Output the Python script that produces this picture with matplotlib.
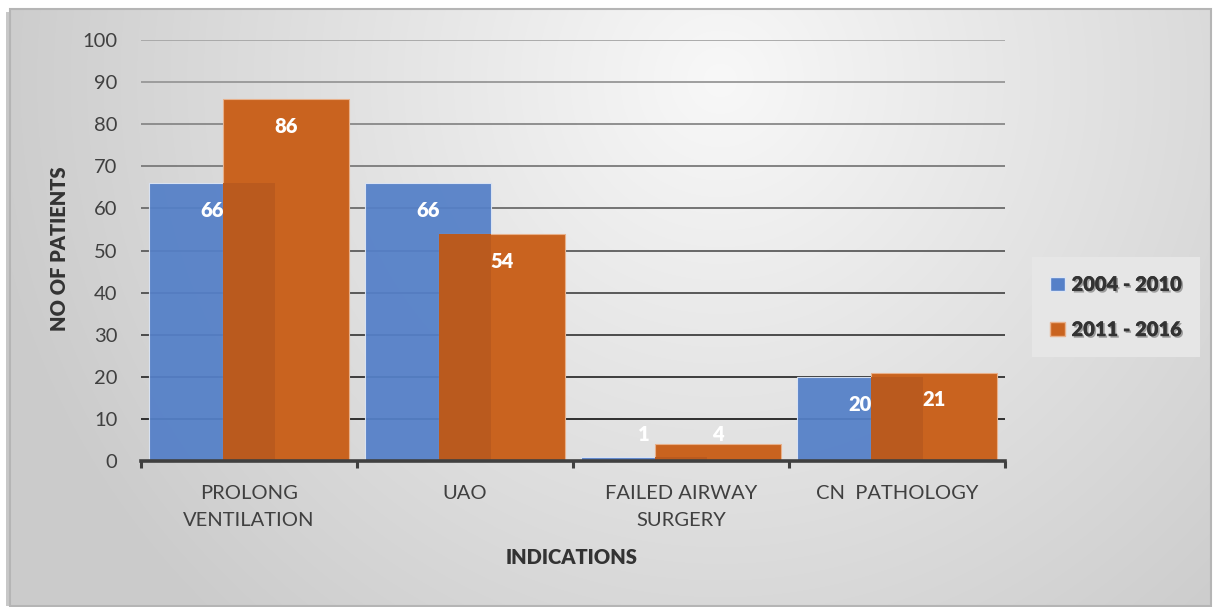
import matplotlib
matplotlib.use('Agg')
import matplotlib.pyplot as plt
import matplotlib.patheffects as pe
from matplotlib.patches import Patch, Rectangle
import numpy as np

# data
categories = ['PROLONG\nVENTILATION', 'UAO', 'FAILED AIRWAY\nSURGERY', 'CN  PATHOLOGY']
series_names = ['2004 - 2010', '2011 - 2016']
period1 = [66, 66, 1, 20]
period2 = [86, 54, 4, 21]
y_ticks = [0, 10, 20, 30, 40, 50, 60, 70, 80, 90, 100]

plt.rcParams['font.family'] = ['Lato', 'DejaVu Sans']

W, H = 1213, 607
fig = plt.figure(figsize=(W / 100, H / 100), dpi=100, facecolor='white')

# background panel with soft radial gradient
bg = fig.add_axes([0, 0, 1, 1], zorder=-5)
bg.set_xlim(0, W)
bg.set_ylim(H, 0)
bg.axis('off')
gx, gy = np.meshgrid(np.arange(10, 1211), np.arange(9, 606))
d = np.hypot(gx - 720, (gy - 80) * 1.0)
shade = 248 - 45 * np.clip(d / 750, 0, 1)
img = np.dstack([shade, shade, shade]) / 255
bg.imshow(img, extent=(10, 1211, 606, 9), aspect='auto', interpolation='bilinear')
bg.add_patch(Rectangle((6, 12), 4, 594, color='#C8C8C8', lw=0))
bg.add_patch(Rectangle((10, 9), 1201, 597, fill=False, edgecolor='#B5B5B5', lw=1.5))

ax = fig.add_axes([141 / W, 1 - 461 / H, (1005 - 141) / W, (461 - 40) / H])
ax.patch.set_alpha(0)

x = np.arange(len(categories))
bw = 0.583
off = 0.173

# gridlines, darker toward the bottom
for t in y_ticks[1:]:
    g = 0.13 + 0.52 * (t - 10) / 90
    ax.axhline(t, color=(g, g, g), lw=1.3, zorder=1)

blue = '#5580C8'
orange = '#C9631F'
ax.bar(x - off, period1, bw, color=blue, alpha=0.94, edgecolor='#DDE6F5', lw=0.8, zorder=2)
ax.bar(x + off, period2, bw, color=orange, edgecolor='#E8B08A', lw=0.8, zorder=3)
overlap = np.minimum(period1, period2)
ax.bar(x, overlap, bw - 2 * off, color='#BA5A1E', lw=0, zorder=4)

for xs, vals in [(x - off, period1), (x + off, period2)]:
    for xi, v in zip(xs, vals):
        ty = v - 6.5 if v >= 10 else 6.2
        ax.text(xi, ty, str(v), ha='center', va='center', color='white',
                fontsize=14.5, fontweight='heavy', zorder=6)

ax.set_xlim(-0.5, 3.5)
ax.set_ylim(0, 100)
ax.set_yticks(y_ticks)
ax.tick_params(axis='y', length=0, pad=17, labelsize=14.5, labelcolor='#404040')
ax.set_xticks(x)
ax.set_xticklabels(categories, fontsize=14.5, color='#404040', linespacing=1.75)
ax.tick_params(axis='x', length=0, pad=17)
ax.set_xticks(np.arange(-0.5, 4, 1), minor=True)
ax.tick_params(axis='x', which='minor', length=5, width=2.2, color='#404040', direction='out')
for s in ['left', 'right', 'top']:
    ax.spines[s].set_visible(False)
ax.spines['bottom'].set_color('#404040')
ax.spines['bottom'].set_linewidth(2.6)
ax.spines['bottom'].set_zorder(5)

fig.text(60 / W, 1 - 249 / H, 'NO OF PATIENTS', rotation=90, ha='center', va='center',
         fontsize=14.5, fontweight='heavy', color='#333333')
fig.text(572 / W, 1 - 557 / H, 'INDICATIONS', ha='center', va='center',
         fontsize=14.5, fontweight='heavy', color='#333333')

handles = [Patch(facecolor=blue, edgecolor='#DDE6F5'), Patch(facecolor=orange, edgecolor='#E8B08A')]
leg = fig.legend(handles, series_names, loc='center', bbox_to_anchor=(1116 / W, 1 - 307 / H),
                 frameon=True, fancybox=False, facecolor='#E6E6E6', edgecolor='none',
                 framealpha=1, handlelength=0.75, handleheight=0.75, handletextpad=0.3,
                 labelspacing=1.3, borderpad=0.9, prop={'size': 14.5, 'weight': 'heavy'})
for t in leg.get_texts():
    t.set_color('#333333')
    t.set_path_effects([pe.withSimplePatchShadow(offset=(1.2, -1.2), shadow_rgbFace='#555555', alpha=0.5),
                        pe.Normal()])

fig.savefig('out.png', dpi=100, facecolor='white')
